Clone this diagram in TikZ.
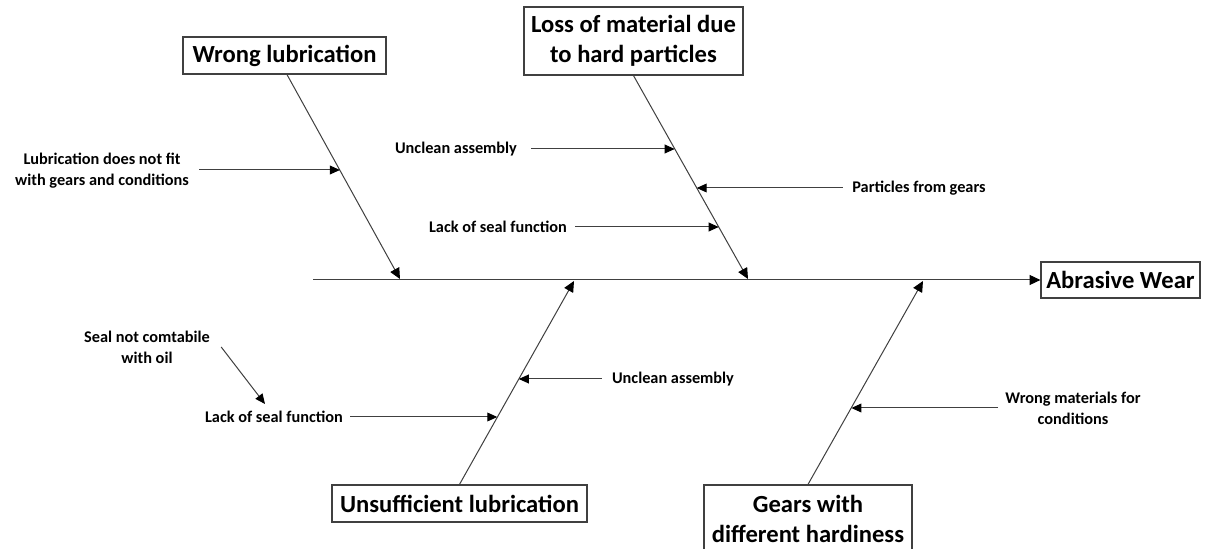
\documentclass[tikz,border=0pt]{standalone}
\usepackage{fontspec}
\setmainfont{Carlito}
\usetikzlibrary{arrows.meta}

\tikzset{
  titlebox/.style={draw=black!75, line width=0.6pt, align=center, inner sep=0pt,
    font=\bfseries\fontsize{12.3}{14.7}\selectfont},
  cause/.style={align=center, inner sep=0pt,
    font=\bfseries\fontsize{8.15}{10.5}\selectfont},
  bone/.style={draw=black!75, line width=0.5pt,
    -{Triangle[length=5.4pt,width=5pt,color=black]}},
  twig/.style={draw=black!75, line width=0.5pt,
    -{Triangle[length=5pt,width=4.4pt,color=black]}}
}

\begin{document}
\begin{tikzpicture}[x=0.5pt,y=-0.5pt]
  \clip (0,0) rectangle (1207,549);
  \fill[white] (0,0) rectangle (1207,549);

  % effect and main categories
  \node[titlebox, minimum width=79.5pt, minimum height=18pt] (abr) at (1120.5,280) {Abrasive Wear};
  \node[titlebox, minimum width=101.5pt, minimum height=18.5pt] (wl) at (284.5,55.5) {Wrong lubrication};
  \node[titlebox, minimum width=109.5pt, minimum height=34pt] (loss) at (633.5,41) {Loss of material due\\to hard particles};
  \node[titlebox, minimum width=127.5pt, minimum height=18.5pt] (unsuf) at (459.5,503.5) {Unsufficient lubrication};
  \node[titlebox, minimum width=104pt, minimum height=34pt] (gears) at (808,519) {Gears with\\different hardiness};

  % spine
  \coordinate (tail) at (313,280);
  \draw[bone] (tail) -- (abr.west);

  % junctions on the spine
  \coordinate (j1) at (400,279);
  \coordinate (j2) at (748,279);
  \coordinate (j3) at (574,281);
  \coordinate (j4) at (923,281);

  % main bones
  \draw[bone] ([xshift=1.25pt]wl.south) -- (j1);
  \draw[bone] (loss.south) -- (j2);
  \draw[bone] (unsuf.north) -- (j3);
  \draw[bone] (gears.north) -- (j4);

  % points on the bones
  \coordinate (p1) at (339.9,170);
  \coordinate (p2) at (674.7,149);
  \coordinate (p3) at (696.7,188);
  \coordinate (p4) at (718.7,227);
  \coordinate (p5) at (518.8,379);
  \coordinate (p6) at (497.3,417);
  \coordinate (p7) at (851.4,408);
  \coordinate (sealtip) at (265,404);

  % sub-causes
  \node[cause] (lub) at (102,171) {Lubrication does not fit\\with gears and conditions};
  \node[cause] (ua1) at (456,149) {Unclean assembly};
  \node[cause] (pfg) at (919,188) {Particles from gears};
  \node[cause] (lsf1) at (498,227) {Lack of seal function};
  \node[cause] (ua2) at (673,379) {Unclean assembly};
  \node[cause] (lsf2) at (274,417) {Lack of seal function};
  \node[cause] (seal) at (147,347) {Seal not comtabile\\with oil};
  \node[cause] (wmc) at (1073,408) {Wrong materials for\\conditions};

  \draw[twig] ([xshift=5pt]lub.east |- p1) -- (p1);
  \draw[twig] ([xshift=7pt]ua1.east |- p2) -- (p2);
  \draw[twig] ([xshift=-4.5pt]pfg.west |- p3) -- (p3);
  \draw[twig] ([xshift=4pt]lsf1.east |- p4) -- (p4);
  \draw[twig] ([xshift=-5pt]ua2.west |- p5) -- (p5);
  \draw[twig] ([xshift=3.5pt]lsf2.east |- p6) -- (p6);
  \draw[twig] ([xshift=-3.5pt]wmc.west |- p7) -- (p7);
  \draw[twig] ([xshift=5.5pt]seal.east) -- (sealtip);
\end{tikzpicture}
\end{document}
